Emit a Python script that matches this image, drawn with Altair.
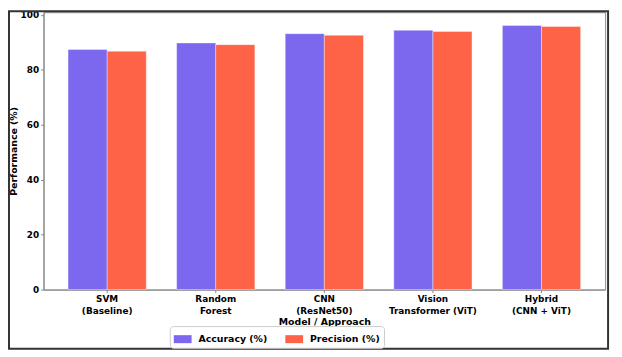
import altair as alt
import pandas as pd

models = ["SVM\n(Baseline)", "Random\nForest", "CNN\n(ResNet50)",
          "Vision\nTransformer (ViT)", "Hybrid\n(CNN + ViT)"]
accuracy = [87.4, 89.8, 93.2, 94.4, 96.2]
precision = [86.8, 89.2, 92.6, 94.0, 95.8]
series = ["Accuracy (%)", "Precision (%)"]
colors = ["#7B68EE", "#FF6347"]
y_ticks = [0, 20, 40, 60, 80, 100]

rows = []
for m, a, p in zip(models, accuracy, precision):
    rows.append({"model": m, "metric": series[0], "value": a})
    rows.append({"model": m, "metric": series[1], "value": p})
df = pd.DataFrame(rows)

W, H = 569, 281
FONT = "DejaVu Sans"

bars = alt.Chart(df).mark_bar(stroke="white", strokeWidth=0.6, strokeOpacity=0.6).encode(
    x=alt.X("model:N", sort=models, title="Model / Approach",
            scale=alt.Scale(paddingInner=0.28, paddingOuter=0.226),
            axis=alt.Axis(labelAngle=0, labelExpr="split(datum.label, '\\n')",
                          labelFontWeight="bold", labelFontSize=9, labelFont=FONT,
                          labelColor="black", labelLineHeight=12, labelPadding=2,
                          titleFontWeight="bold", titleFontSize=9.5, titleFont=FONT,
                          titleColor="black", titlePadding=1,
                          domainColor="#888888", tickColor="#888888", tickSize=3)),
    xOffset=alt.XOffset("metric:N", sort=series),
    y=alt.Y("value:Q", title="Performance (%)",
            scale=alt.Scale(domain=[0, 101], nice=False),
            axis=alt.Axis(values=y_ticks, grid=False, labelFontWeight="bold",
                          labelFontSize=9, labelFont=FONT, labelColor="black",
                          titleFontWeight="bold", titleFontSize=9.5, titleFont=FONT,
                          titleColor="black", titlePadding=2,
                          domainColor="#888888", tickColor="#888888", tickSize=3)),
    color=alt.Color("metric:N", sort=series,
                    scale=alt.Scale(domain=series, range=colors),
                    legend=alt.Legend(title=None, orient="none", direction="horizontal",
                                      legendX=128, legendY=318,
                                      symbolType="M-1,-0.45H1V0.45H-1Z", symbolSize=324,
                                      symbolStrokeWidth=0, labelFontSize=9.5,
                                      labelFontWeight="bold", labelFont=FONT,
                                      labelColor="black", labelOffset=7,
                                      columnPadding=18, padding=4,
                                      strokeColor="#cccccc", cornerRadius=3,
                                      fillColor="white")),
)

frame = alt.Chart(pd.DataFrame({"k": [0]})).mark_rect(
    fill=None, stroke="#333333", strokeWidth=2
).encode(x=alt.value(-35), x2=alt.value(W + 3), y=alt.value(-1), y2=alt.value(341))

chart = alt.layer(bars, frame).properties(
    width=W, height=H,
    autosize=alt.AutoSizeParams(type="none"),
    padding={"left": 36, "top": 2, "right": 9, "bottom": 63},
).configure_view(stroke="#888888", strokeWidth=1)

chart.save("out.html", embed_options={"renderer": "svg", "actions": False})
